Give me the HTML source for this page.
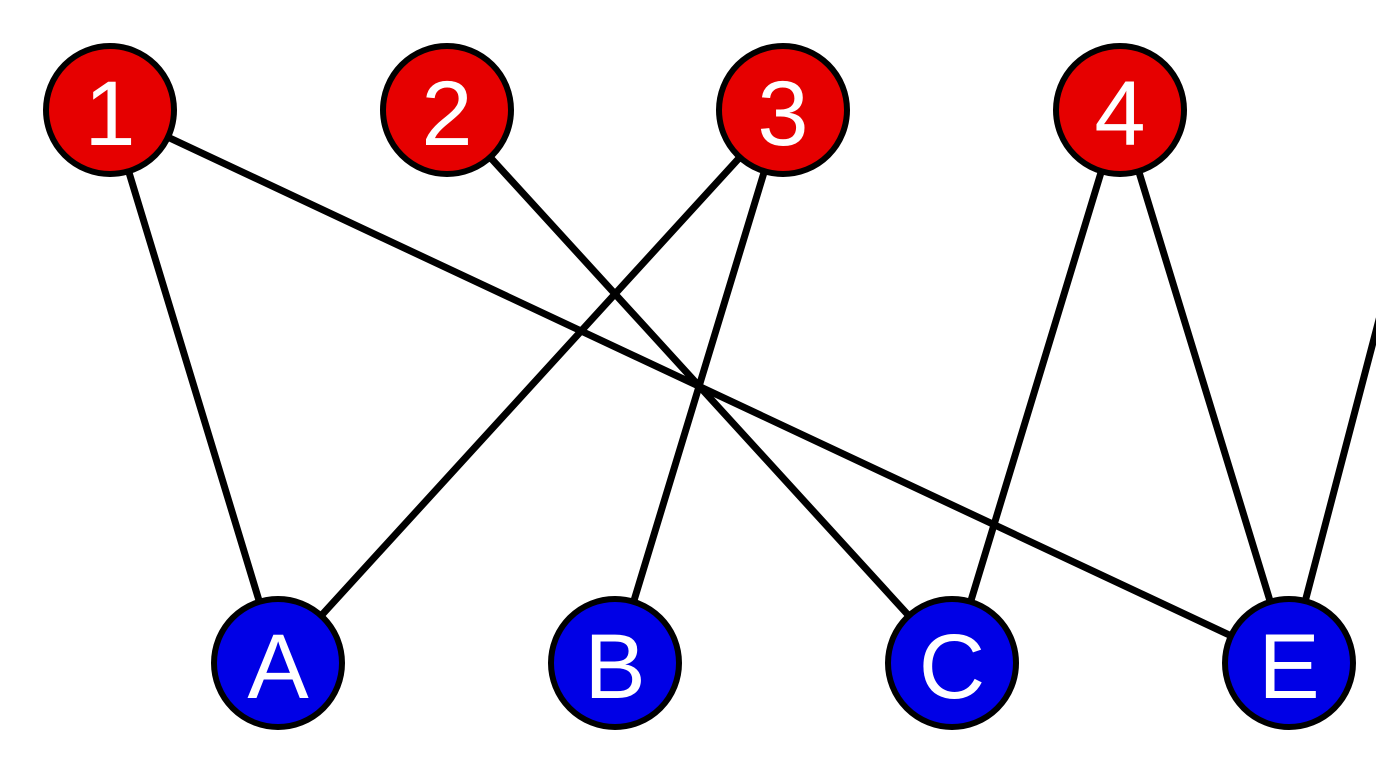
<!DOCTYPE html>
<html><head><meta charset="utf-8"><style>
html,body{margin:0;padding:0;background:#fff;}
svg{display:block;}
text{font-family:"Liberation Sans",sans-serif;font-size:92px;fill:#fff;text-anchor:middle;dominant-baseline:central;}
</style></head><body>
<svg width="1376" height="774" viewBox="0 0 1376 774" xmlns="http://www.w3.org/2000/svg">
<rect width="1376" height="774" fill="#fff"/>
<g stroke="#000" stroke-width="7" stroke-linecap="round">
<line x1="110" y1="110" x2="278" y2="663"/>
<line x1="110" y1="110" x2="1289" y2="663"/>
<line x1="447" y1="110" x2="952" y2="663"/>
<line x1="783" y1="110" x2="278" y2="663"/>
<line x1="783" y1="110" x2="615" y2="663"/>
<line x1="1120" y1="110" x2="952" y2="663"/>
<line x1="1120" y1="110" x2="1289" y2="663"/>
<line x1="1289" y1="663" x2="1392" y2="270"/>
</g>
<g stroke="#000" stroke-width="6">
<circle cx="110" cy="110" r="64" fill="#e60000"/>
<circle cx="447" cy="110" r="64" fill="#e60000"/>
<circle cx="783" cy="110" r="64" fill="#e60000"/>
<circle cx="1120" cy="110" r="64" fill="#e60000"/>
<circle cx="278" cy="663" r="64" fill="#0000e6"/>
<circle cx="615" cy="663" r="64" fill="#0000e6"/>
<circle cx="952" cy="663" r="64" fill="#0000e6"/>
<circle cx="1289" cy="663" r="64" fill="#0000e6"/>
</g>
<text x="110" y="114">1</text>
<text x="447" y="114">2</text>
<text x="783" y="114">3</text>
<text x="1120" y="114">4</text>
<text x="278" y="667">A</text>
<text x="615" y="667">B</text>
<text x="952" y="667">C</text>
<text x="1289" y="667">E</text>
</svg>
</body></html>
